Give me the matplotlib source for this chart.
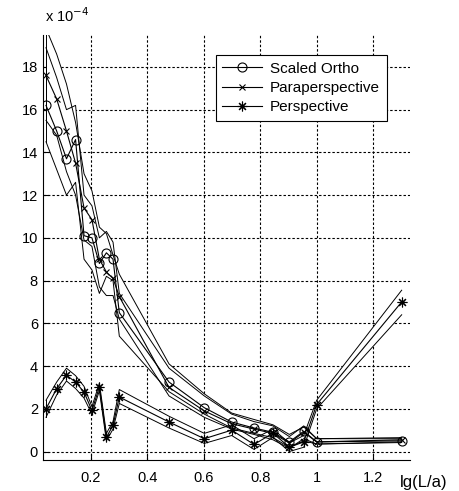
import numpy as np
import matplotlib
matplotlib.use("Agg")
import matplotlib.pyplot as plt

# L/a ratios (x axis is lg(L/a)); errors in units of 1e-4
ratio = [1.1, 1.2, 1.3, 1.4, 1.5, 1.6, 1.7, 1.8, 1.9, 2, 3, 4, 5, 6, 7, 8, 9, 10, 20]

ortho = [16.2, 15.0, 13.7, 14.6, 10.1, 10.0, 8.8, 9.3, 9.0, 6.5, 3.25, 2.05, 1.38, 1.1, 0.9, 0.45, 0.95, 0.45, 0.5]
ortho_hi = [18.9, 17.5, 16.0, 16.2, 12.0, 11.5, 10.0, 10.3, 9.8, 7.4, 3.9, 2.6, 1.75, 1.4, 1.2, 0.7, 1.2, 0.6, 0.6]
ortho_lo = [14.5, 13.2, 12.0, 12.6, 9.0, 8.5, 7.4, 8.2, 8.0, 5.4, 2.8, 1.75, 1.1, 0.85, 0.65, 0.2, 0.5, 0.35, 0.42]

para = [17.6, 16.5, 15.0, 13.5, 11.4, 10.85, 9.0, 8.4, 8.1, 7.25, 3.0, 1.9, 1.3, 1.05, 0.85, 0.4, 0.9, 0.45, 0.55]
para_hi = [19.8, 18.6, 17.2, 15.4, 13.0, 12.2, 10.5, 10.2, 9.2, 8.3, 4.1, 2.7, 1.8, 1.5, 1.25, 0.8, 1.15, 0.6, 0.65]
para_lo = [15.5, 14.8, 13.1, 12.0, 9.9, 9.6, 7.7, 7.3, 7.3, 6.2, 2.6, 1.6, 1.05, 0.8, 0.55, 0.15, 0.6, 0.35, 0.45]

persp = [2.0, 2.94, 3.57, 3.25, 2.78, 1.92, 3.02, 0.67, 1.22, 2.55, 1.38, 0.6, 1.0, 0.33, 0.86, 0.2, 0.45, 2.2, 7.0]
persp_hi = [2.4, 3.25, 3.9, 3.55, 3.05, 2.1, 3.2, 0.85, 1.4, 2.9, 1.65, 0.85, 1.25, 0.6, 1.05, 0.4, 0.75, 2.4, 7.55]
persp_lo = [1.6, 2.65, 3.3, 2.95, 2.5, 1.75, 2.85, 0.5, 1.05, 2.25, 1.1, 0.38, 0.75, 0.1, 0.66, 0.0, 0.2, 2.0, 6.4]

labels = ["Scaled Ortho", "Paraperspective", "Perspective"]

x = np.log10(ratio)

plt.rcParams["font.family"] = ["Liberation Sans", "DejaVu Sans"]
plt.rcParams["font.size"] = 10.5

fig = plt.figure(figsize=(4.6, 4.91), dpi=100)
ax = fig.add_axes([0.093, 0.063, 0.798, 0.866])

series = [(ortho, ortho_hi, ortho_lo), (para, para_hi, para_lo), (persp, persp_hi, persp_lo)]

# white bands cover the grid, edges drawn on top
for c, hi, lo in series:
    ax.fill_between(x, lo, hi, facecolor="white", edgecolor="none", zorder=3)
for c, hi, lo in series:
    ax.plot(x, hi, color="black", lw=0.7, zorder=4)
    ax.plot(x, lo, color="black", lw=0.7, zorder=4)
    ax.plot([x[0], x[0]], [lo[0], hi[0]], color="black", lw=0.7, zorder=4)

markers = ["o", "x", (8, 2, 0)]
sizes = [6.5, 5, 7]
for (c, hi, lo), lab, m, s in zip(series, labels, markers, sizes):
    ax.plot(x, c, color="black", lw=0.8, marker=m, ms=s, mfc="none",
            mec="black", mew=0.8, label=lab, zorder=5)

ax.set_xlim(0.03, 1.33)
ax.set_ylim(-0.4, 19.5)
ax.set_xticks([0.2, 0.4, 0.6, 0.8, 1.0, 1.2])
ax.set_xticklabels(["0.2", "0.4", "0.6", "0.8", "1", "1.2"])
ax.set_yticks(range(0, 19, 2))
ax.tick_params(direction="in", length=4, width=0.8, colors="black")
ax.tick_params(axis="x", pad=8)
ax.grid(True, color="black", linestyle=(0, (2.2, 1.8)), lw=0.8)
ax.set_axisbelow(True)
for side in ["top", "right"]:
    ax.spines[side].set_visible(False)
for side in ["left", "bottom"]:
    ax.spines[side].set_linewidth(0.8)
    ax.spines[side].set_zorder(2.5)

leg = ax.legend(loc="upper right", bbox_to_anchor=(0.937, 0.953), fancybox=False,
                framealpha=1, edgecolor="black", handlelength=2.6, fontsize=11,
                borderpad=0.45, labelspacing=0.35, handletextpad=0.5, borderaxespad=0)
leg.get_frame().set_linewidth(0.8)
leg.set_zorder(10)

fig.text(0.097, 0.955, r"x 10$^{-4}$", fontsize=10.5)
fig.text(0.87, 0.008, "lg(L/a)", fontsize=12)

fig.savefig("out.png", dpi=100)
